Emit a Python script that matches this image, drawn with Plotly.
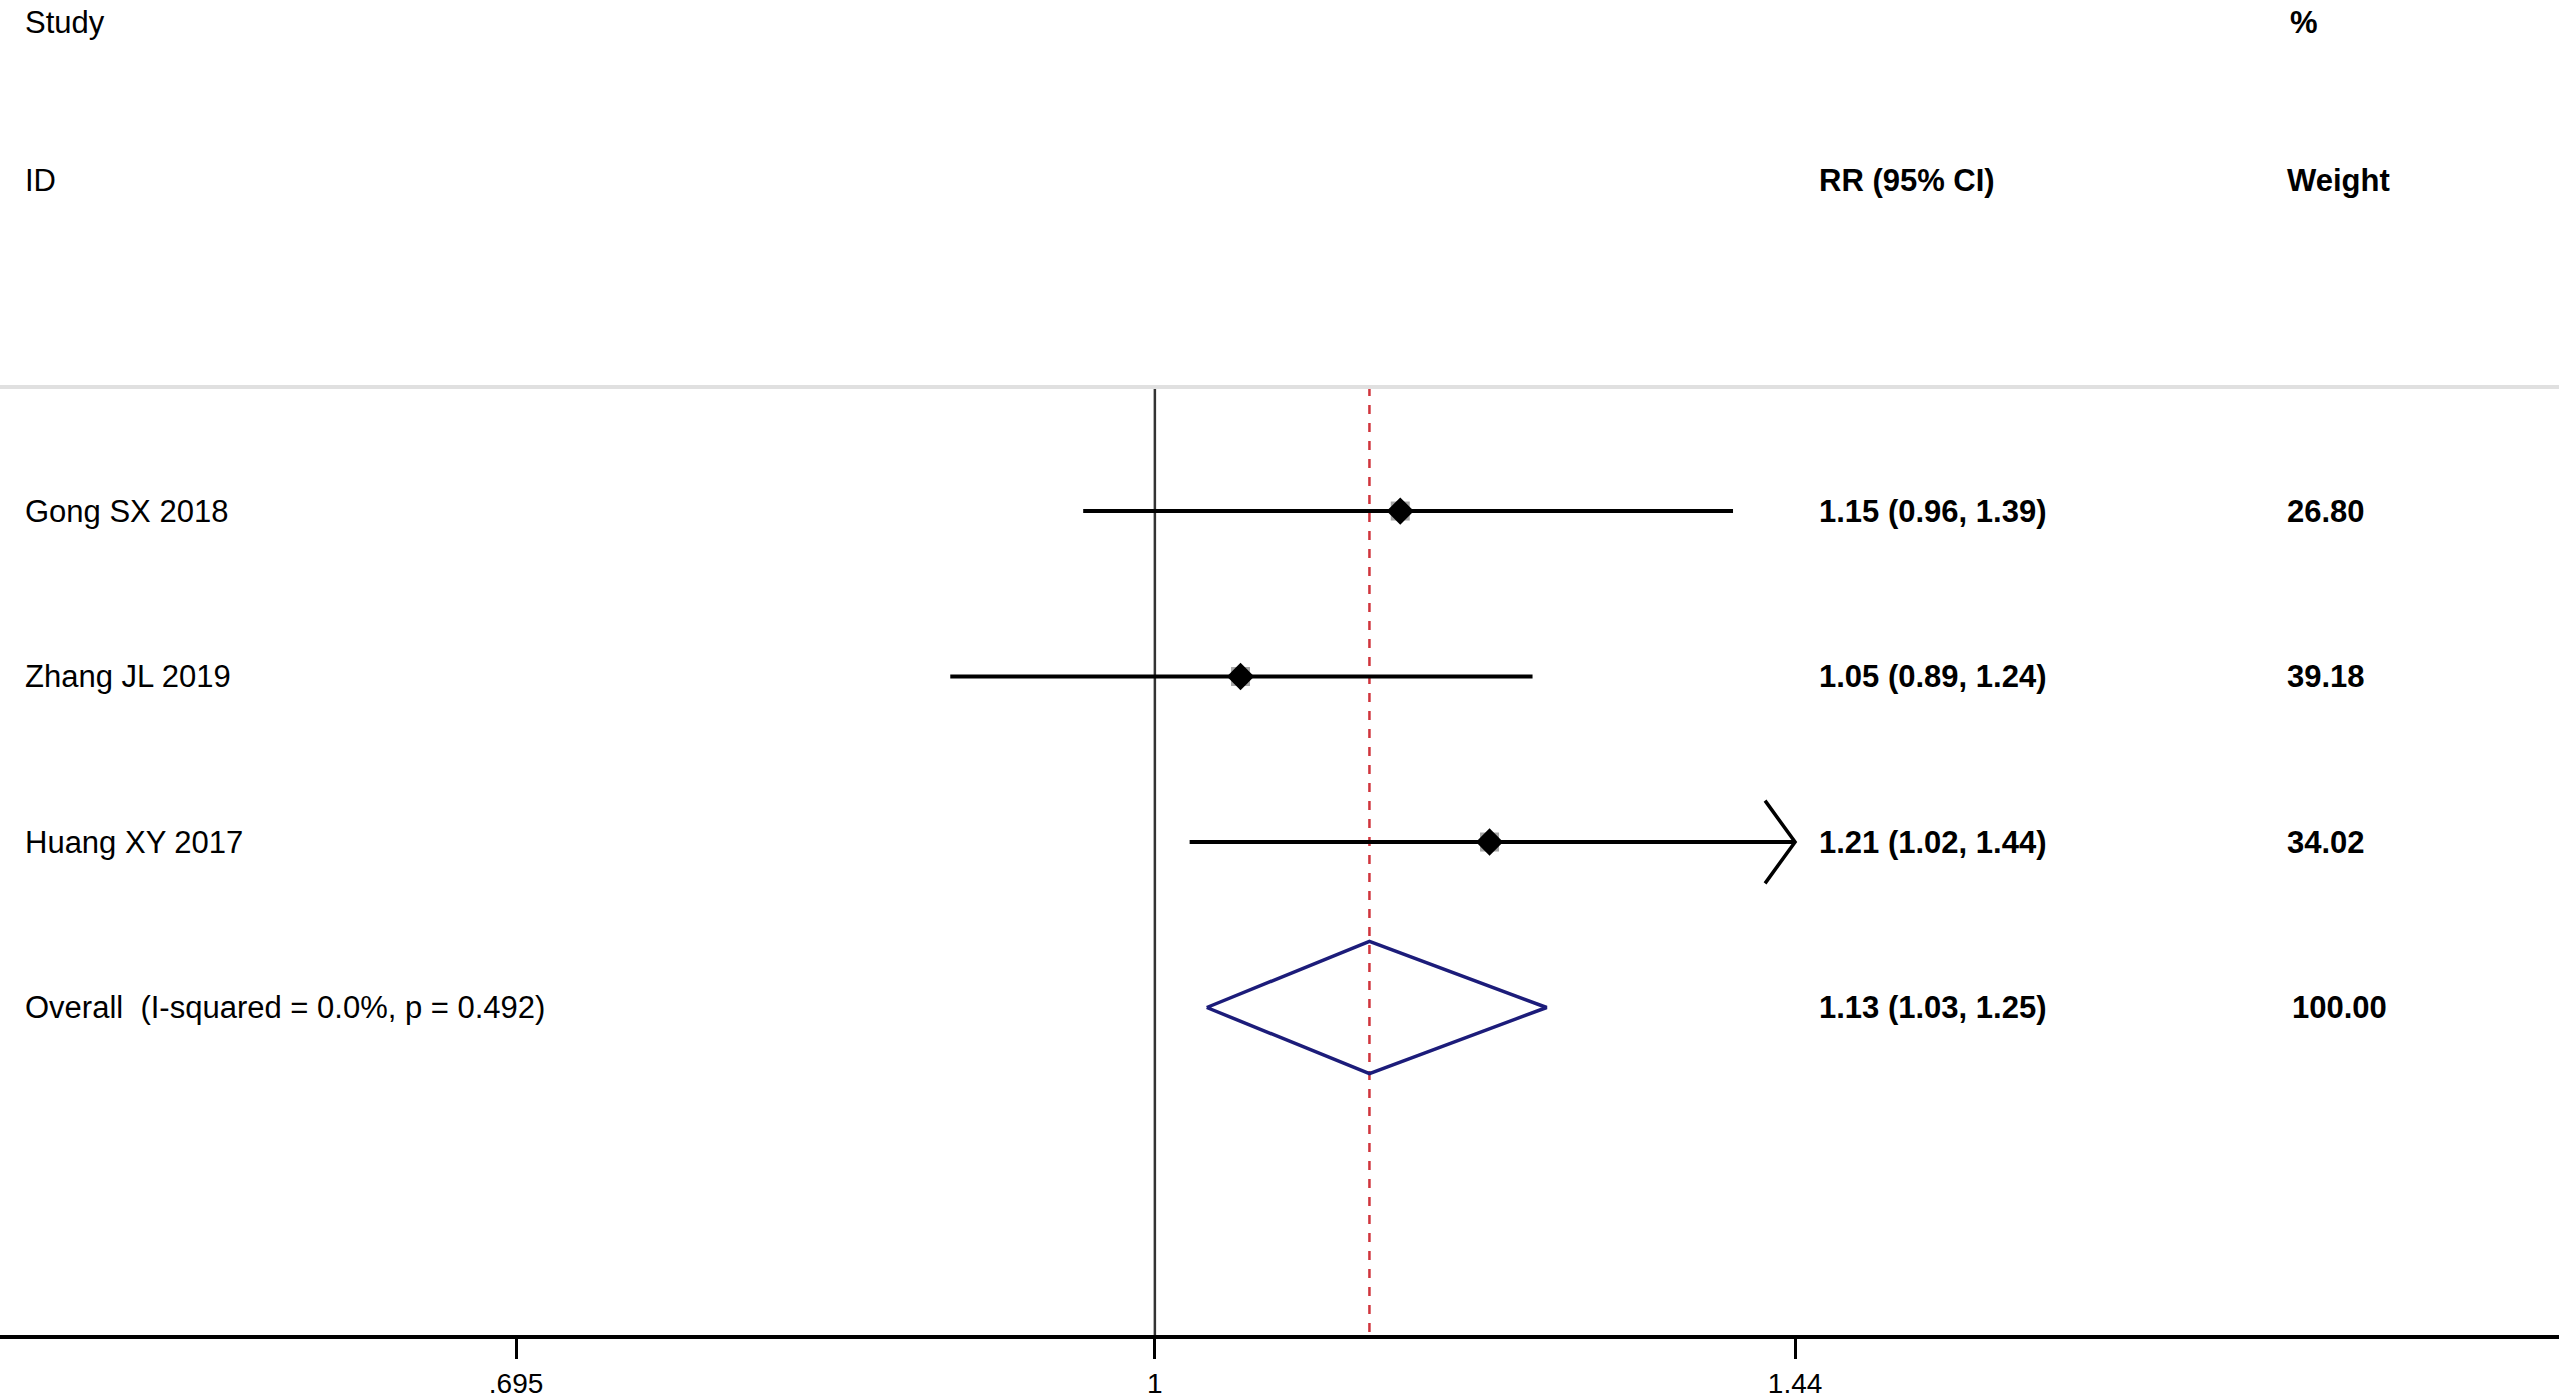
import math
import plotly.graph_objects as go

# data
studies = ["Gong SX 2018", "Zhang JL 2019", "Huang XY 2017"]
rr = [1.15, 1.05, 1.21]
ci_lo = [0.96, 0.89, 1.02]
ci_hi = [1.39, 1.24, 1.44]
weights = ["26.80", "39.18", "34.02"]

overall_label = "Overall  (I-squared = 0.0%, p = 0.492)"
overall_rr = 1.13
overall_lo = 1.03
overall_hi = 1.25
overall_weight = "100.00"

tick_vals = [0.695, 1, 1.44]
tick_text = [".695", "1", "1.44"]
x_max = 1.44  # CIs above this are clipped with an arrow

FONT = "Liberation Sans, Arial, Helvetica, sans-serif"
rows = [-(i + 1) for i in range(len(studies))]
overall_row = -(len(studies) + 1)

fig = go.Figure()

# reference line at 1 and pooled estimate line
fig.add_trace(go.Scatter(x=[1, 1], y=[-0.25, -6.2], mode="lines",
                         line=dict(color="#333333", width=2.5),
                         hoverinfo="skip", showlegend=False))
fig.add_trace(go.Scatter(x=[overall_rr, overall_rr], y=[-0.25, -6.2], mode="lines",
                         line=dict(color="#d0343c", width=2.5, dash="dash"),
                         hoverinfo="skip", showlegend=False))

# confidence intervals
for y, lo, hi in zip(rows, ci_lo, ci_hi):
    fig.add_trace(go.Scatter(x=[lo, min(hi, x_max)], y=[y, y], mode="lines",
                             line=dict(color="black", width=4),
                             hoverinfo="skip", showlegend=False))
    if hi >= x_max:
        k = math.exp(-30 / 1755)
        fig.add_trace(go.Scatter(x=[x_max * k, x_max, x_max * k], y=[y + 0.25, y, y - 0.25],
                                 mode="lines", line=dict(color="black", width=3.5),
                                 hoverinfo="skip", showlegend=False))

# weight boxes and point estimates
fig.add_trace(go.Scatter(x=rr, y=rows, mode="markers",
                         marker=dict(symbol="square", size=19, color="#a8a8a8"),
                         hoverinfo="skip", showlegend=False))
fig.add_trace(go.Scatter(x=rr, y=rows, mode="markers",
                         marker=dict(symbol="diamond", size=21, color="black"),
                         hoverinfo="skip", showlegend=False))

# pooled diamond
h = 0.4
fig.add_trace(go.Scatter(x=[overall_lo, overall_rr, overall_hi, overall_rr, overall_lo],
                         y=[overall_row, overall_row + h, overall_row, overall_row - h, overall_row],
                         mode="lines", line=dict(color="#1c1c7a", width=3.5),
                         hoverinfo="skip", showlegend=False))

# separator under header
fig.add_shape(type="line", xref="paper", yref="y", x0=0, x1=1, y0=-0.25, y1=-0.25,
              line=dict(color="#e0e0e0", width=4))

def txt(x, y, s, bold=False):
    fig.add_annotation(x=x, y=y, xref="paper", yref="y", text=f"<b>{s}</b>" if bold else s,
                       showarrow=False, xanchor="left", yanchor="middle",
                       font=dict(family=FONT, size=31, color="black"))

# header
txt(0.009, 1.95, "Study")
txt(0.009, 1.0, "ID")
txt(0.710, 1.0, "RR (95% CI)", bold=True)
txt(0.894, 1.95, "%", bold=True)
txt(0.893, 1.0, "Weight", bold=True)

# rows
for y, s, r, lo, hi, w in zip(rows, studies, rr, ci_lo, ci_hi, weights):
    txt(0.009, y, s)
    txt(0.710, y, f"{r:.2f} ({lo:.2f}, {hi:.2f})", bold=True)
    txt(0.893, y, w, bold=True)
txt(0.009, overall_row, overall_label)
txt(0.710, overall_row, f"{overall_rr:.2f} ({overall_lo:.2f}, {overall_hi:.2f})", bold=True)
txt(0.895, overall_row, overall_weight, bold=True)

fig.update_layout(
    width=2559, height=1400,
    margin=dict(l=0, r=0, t=0, b=65),
    plot_bgcolor="white", paper_bgcolor="white",
    xaxis=dict(type="log", range=[math.log10(0.518), math.log10(2.225)],
               tickvals=tick_vals, ticktext=tick_text,
               ticks="outside", ticklen=20, tickwidth=3, tickcolor="black",
               showline=True, linecolor="black", linewidth=4,
               showgrid=False, zeroline=False,
               tickfont=dict(family=FONT, size=28, color="black")),
    yaxis=dict(range=[-5.979, 2.088], visible=False, showgrid=False, zeroline=False),
)

fig.write_html("out.html", config={"displayModeBar": False},
               post_script="document.body.style.margin='0';")
